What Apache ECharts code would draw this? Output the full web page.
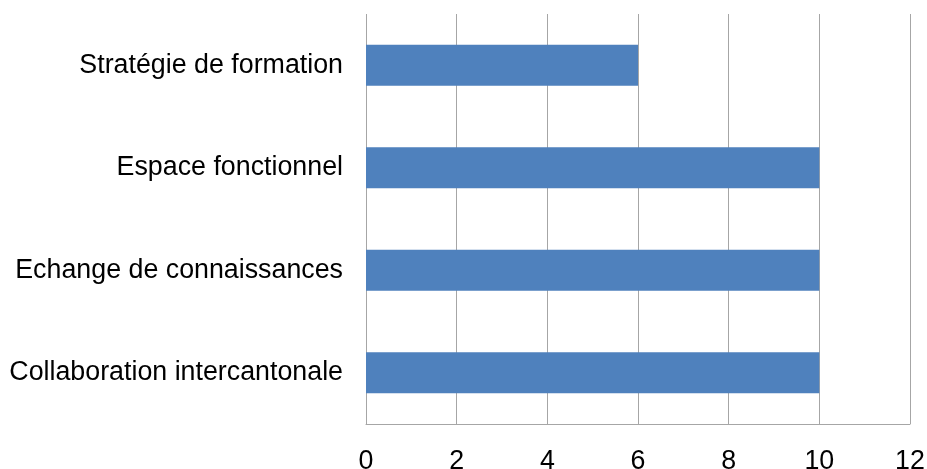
<!DOCTYPE html>
<html>
<head>
<meta charset="utf-8">
<script src="https://cdn.jsdelivr.net/npm/echarts@6/dist/echarts.min.js"></script>
<style>
  html, body { margin: 0; padding: 0; background: #ffffff; }
  #chart { width: 927px; height: 469px; }
</style>
</head>
<body>
<div id="chart"></div>
<script>
// Categories listed bottom to top (category axis on y runs upward)
const categories = [
  'Collaboration intercantonale',
  'Echange de connaissances',
  'Espace fonctionnel',
  'Stratégie de formation'
];
const values = [10, 10, 10, 6];
const axisMin = 0;
const axisMax = 12;
const axisStep = 2;

const gridColor = '#a6a6a6';
const fontFamily = '"Liberation Sans", Arial, sans-serif';

const chart = echarts.init(document.getElementById('chart'), null, { renderer: 'canvas' });
chart.setOption({
  animation: false,
  backgroundColor: '#ffffff',
  grid: {
    left: 366, right: 17, top: 14, bottom: 45,
    containLabel: false,
    outerBoundsMode: 'none'
  },
  xAxis: {
    type: 'value',
    min: axisMin,
    max: axisMax,
    interval: axisStep,
    axisLine: { show: true, lineStyle: { color: gridColor, width: 1 } },
    axisTick: { show: false },
    axisLabel: { color: '#000000', fontSize: 26.8, fontFamily: fontFamily, margin: 24 },
    splitLine: { show: true, lineStyle: { color: gridColor, width: 1 } }
  },
  yAxis: {
    type: 'category',
    data: categories,
    axisLine: { show: false },
    axisTick: { show: false },
    axisLabel: { color: '#000000', fontSize: 26.8, fontFamily: fontFamily, margin: 23 },
    splitLine: { show: false }
  },
  series: [{
    type: 'bar',
    data: values,
    barWidth: '40%',
    itemStyle: { color: '#4f81bd' }
  }]
});
</script>
</body>
</html>
